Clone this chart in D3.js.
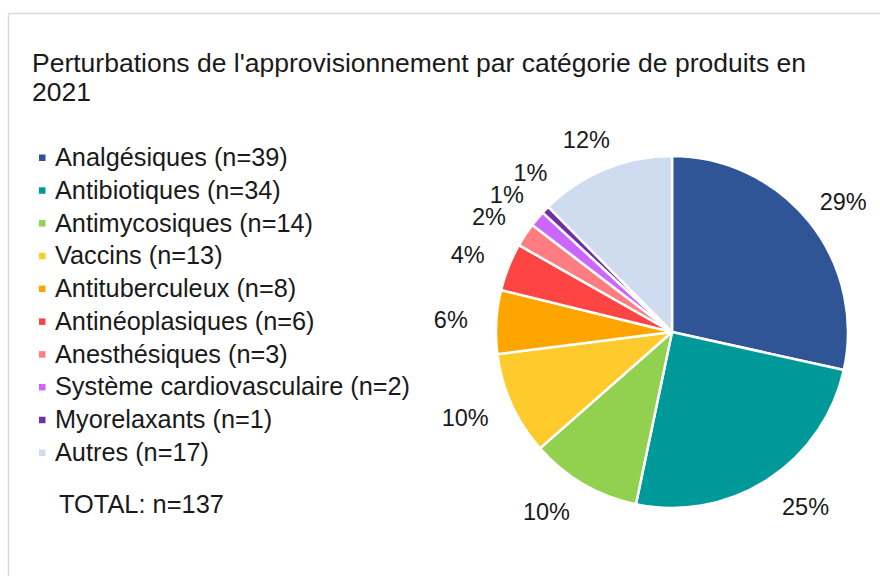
<!DOCTYPE html>
<html>
<head>
<meta charset="utf-8">
<script src="https://cdn.jsdelivr.net/npm/d3@7"></script>
<style>
  body { margin: 0; background: #fff; }
  text { font-family: "Liberation Sans", Arial, sans-serif; fill: #1a1a1a; }
</style>
</head>
<body>
<svg id="viz"></svg>
<script>
// chart data
var categories = ['Analgésiques', 'Antibiotiques', 'Antimycosiques', 'Vaccins', 'Antituberculeux',
  'Antinéoplasiques', 'Anesthésiques', 'Système cardiovasculaire', 'Myorelaxants', 'Autres'];
var counts = [39, 34, 14, 13, 8, 6, 3, 2, 1, 17];
var pctLabels = ['29%', '25%', '10%', '10%', '6%', '4%', '2%', '1%', '1%', '12%'];
var colors = ['#2F5597', '#009999', '#92D050', '#FFCA2C', '#FFA500',
  '#FF4444', '#FF7C80', '#CC66FF', '#7030A0', '#CFDBEE'];
var totalLabel = 'TOTAL: n=137';
var titleLines = ["Perturbations de l'approvisionnement par catégorie de produits en", '2021'];

var width = 880, height = 576;
var svg = d3.select('#viz').attr('width', width).attr('height', height);

// frame (light border at top/left)
svg.append('line').attr('x1', 8.5).attr('y1', 13.5).attr('x2', width).attr('y2', 13.5)
  .attr('stroke', '#d9d9d9').attr('stroke-width', 1.5);
svg.append('line').attr('x1', 8.5).attr('y1', 13.5).attr('x2', 8.5).attr('y2', height)
  .attr('stroke', '#d9d9d9').attr('stroke-width', 1.5);

// title
svg.append('text')
  .attr('x', 32)
  .attr('y', 72)
  .style('font-size', '26.5px')
  .selectAll('tspan')
  .data(titleLines)
  .join('tspan')
  .attr('x', 32)
  .attr('dy', (d, i) => (i == 0 ? 0 : 29))
  .text((d) => d);

// legend
var legendY = d3.scaleLinear().domain([0, categories.length - 1]).range([166, 461]);
var legend = svg.append('g');
legend.selectAll('rect')
  .data(categories)
  .join('rect')
  .attr('x', 39)
  .attr('y', (d, i) => legendY(i) - 11.5)
  .attr('width', 6.5)
  .attr('height', 6.5)
  .attr('fill', (d, i) => colors[i]);
legend.selectAll('text')
  .data(categories)
  .join('text')
  .attr('x', 55)
  .attr('y', (d, i) => legendY(i))
  .style('font-size', '25.3px')
  .text((d, i) => d + ' (n=' + counts[i] + ')');

svg.append('text')
  .attr('x', 59)
  .attr('y', 513)
  .style('font-size', '25.4px')
  .text(totalLabel);

// pie
var cx = 672, cy = 332, r = 176;
var pieG = svg.append('g').attr('transform', 'translate(' + cx + ',' + cy + ')');
var pie = d3.pie().sort(null).value((d) => d);
var arcs = pie(counts);
var arc = d3.arc().innerRadius(0).outerRadius(r);

pieG.selectAll('path')
  .data(arcs)
  .join('path')
  .attr('d', arc)
  .attr('fill', (d, i) => colors[i])
  .attr('stroke', '#fff')
  .style('stroke-width', '2.5px')
  .attr('stroke-linejoin', 'round');

// outside-end labels, nudged along the ring when they collide
var labelR = 208;
function labelPos(a) {
  var s = Math.sin(a), c = Math.cos(a);
  var e = 14 - 8 * c;
  return [s * labelR + Math.sign(s) * e, -c * labelR];
}

var labels = pieG.selectAll('text.lbl')
  .data(arcs)
  .join('text')
  .attr('class', 'lbl')
  .attr('text-anchor', 'middle')
  .attr('dominant-baseline', 'central')
  .style('font-size', '23.5px')
  .text((d, i) => pctLabels[i]);

var placed = [];
labels.each(function (d) {
  var w = this.getComputedTextLength();
  var a = (d.startAngle + d.endAngle) / 2;
  var p = labelPos(a);
  var hit = true, n = 0;
  while (hit && n < 200) {
    hit = placed.some((q) => Math.abs(q.x - p[0]) < (q.w + w) / 2 + 1 && Math.abs(q.y - p[1]) < 22);
    if (hit) {
      a += 0.005;
      p = labelPos(a);
    }
    n++;
  }
  placed.push({ x: p[0], y: p[1], w: w });
  d3.select(this).attr('x', p[0]).attr('y', p[1]);
});
</script>
</body>
</html>
